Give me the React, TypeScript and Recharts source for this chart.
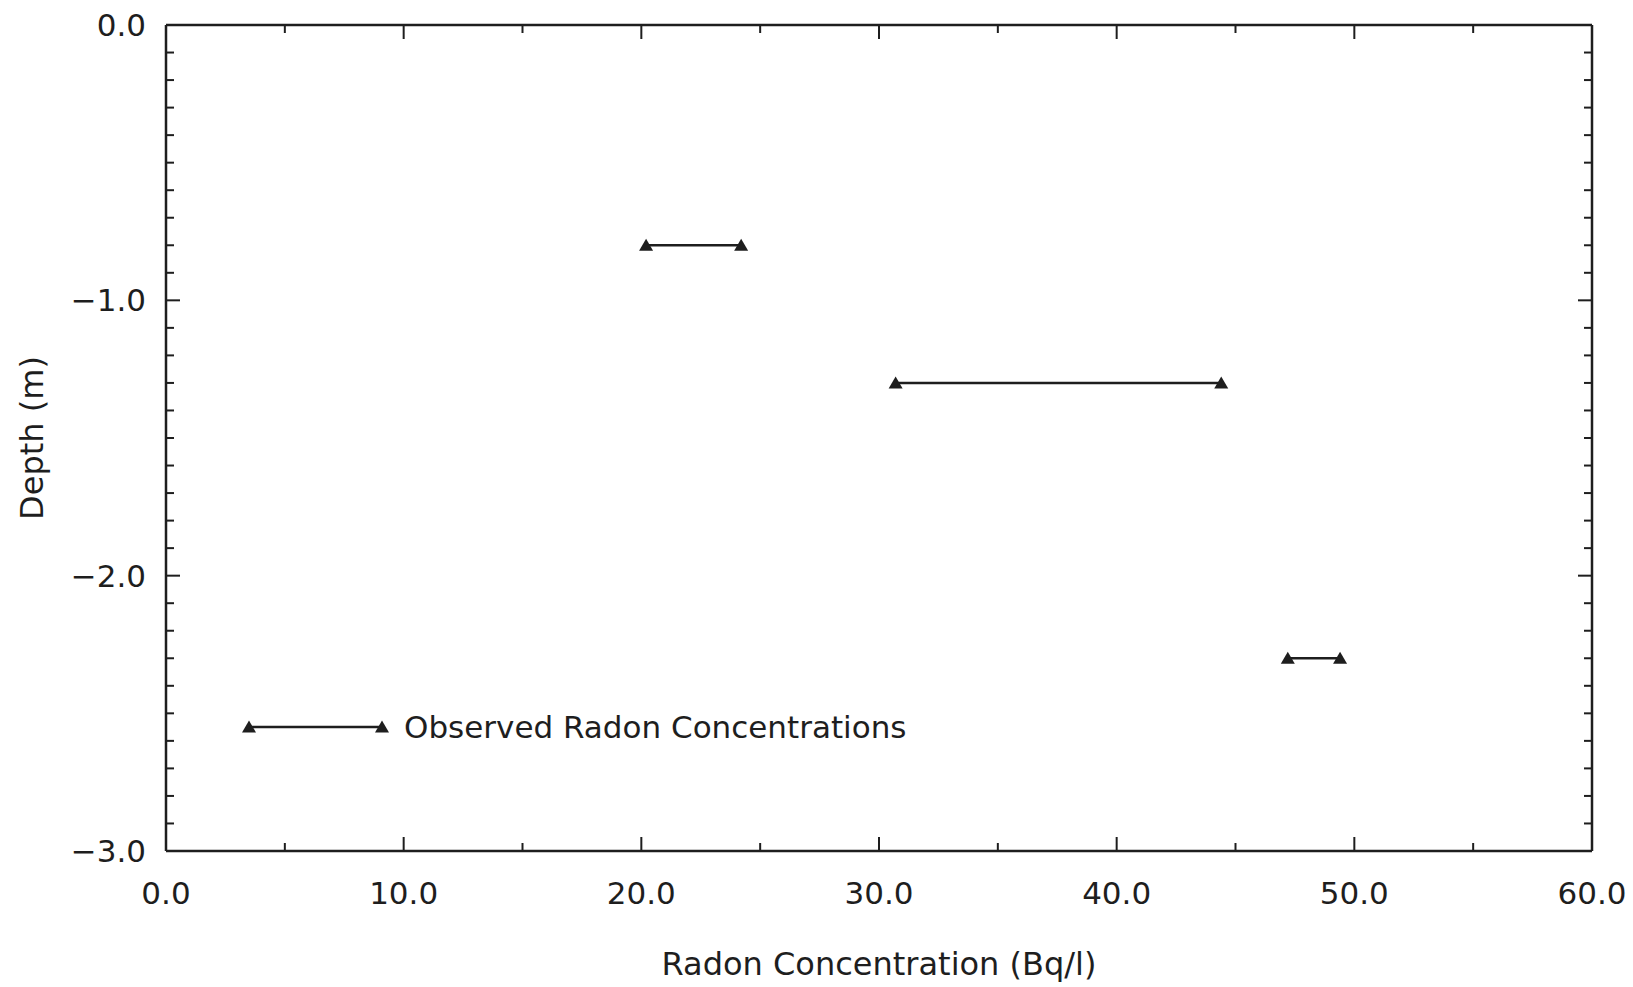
import { ScatterChart, Scatter, XAxis, YAxis, Legend, Label } from 'recharts';

// Observed radon concentration ranges at each sampling depth
const depths = [-0.8, -1.3, -2.3];
const lowValues = [20.2, 30.7, 47.2];
const highValues = [24.2, 44.4, 49.4];

const xTicks = [0, 5, 10, 15, 20, 25, 30, 35, 40, 45, 50, 55, 60];
const yTicks = Array.from({ length: 31 }, (_, i) => (i - 30) / 10);

const INK = '#1e1e1e';
const FONT = '"DejaVu Sans", sans-serif';
const FS = 31;

const ranges = depths.map((d, i) => [
    { x: lowValues[i], y: d },
    { x: highValues[i], y: d },
]);

const fmt = (v: number) => (v < 0 ? '\u2212' : '') + Math.abs(v).toFixed(1);
const isMajor = (v: number, step: number) => Math.abs(v / step - Math.round(v / step)) < 1e-6;

const Triangle = (props: any) => {
    const { cx, cy } = props;
    if (cx == null || cy == null) return null;
    return <polygon points={`${cx - 7},${cy + 5.5} ${cx + 7},${cy + 5.5} ${cx},${cy - 6.5}`} fill={INK} />;
};

const Nothing = () => <g />;

const BottomTick = ({ x, y, payload }: any) => {
    const v = payload.value;
    const major = isMajor(v, 10);
    return (
        <g>
            <line x1={x} x2={x} y1={y} y2={y - (major ? 14 : 8)} stroke={INK} strokeWidth={2} />
            {major && (
                <text x={x} y={y + 53} textAnchor="middle" fontFamily={FONT} fontSize={FS} fill={INK}>
                    {fmt(v)}
                </text>
            )}
        </g>
    );
};

const TopTick = ({ x, y, payload }: any) => {
    const major = isMajor(payload.value, 10);
    return <line x1={x} x2={x} y1={y} y2={y + (major ? 14 : 8)} stroke={INK} strokeWidth={2} />;
};

const LeftTick = ({ x, y, payload }: any) => {
    const v = payload.value;
    const major = isMajor(v, 1);
    return (
        <g>
            <line x1={x} x2={x + (major ? 14 : 8)} y1={y} y2={y} stroke={INK} strokeWidth={2} />
            {major && (
                <text x={x - 20} y={y + 11} textAnchor="end" fontFamily={FONT} fontSize={FS} fill={INK}>
                    {fmt(v)}
                </text>
            )}
        </g>
    );
};

const RightTick = ({ x, y, payload }: any) => {
    const major = isMajor(payload.value, 1);
    return <line x1={x} x2={x - (major ? 14 : 8)} y1={y} y2={y} stroke={INK} strokeWidth={2} />;
};

const XTitle = ({ viewBox }: any) => (
    <text x={viewBox.x + viewBox.width / 2} y={viewBox.y + 124} textAnchor="middle" fontFamily={FONT} fontSize={32} fill={INK}>
        Radon Concentration (Bq/l)
    </text>
);

const YTitle = ({ viewBox }: any) => {
    const cx = 32;
    const cy = viewBox.y + viewBox.height / 2;
    return (
        <text x={cx} y={cy} transform={`rotate(-90 ${cx} ${cy})`} textAnchor="middle" dominantBaseline="central" fontFamily={FONT} fontSize={32} fill={INK}>
            Depth (m)
        </text>
    );
};

const LegendKey = () => (
    <div style={{ display: 'flex', alignItems: 'center', fontFamily: FONT, fontSize: FS, color: INK, whiteSpace: 'nowrap' }}>
        <svg width={152} height={20}>
            <line x1={10} x2={143} y1={10} y2={10} stroke={INK} strokeWidth={2.5} />
            <Triangle cx={10} cy={10} />
            <Triangle cx={143} cy={10} />
        </svg>
        <span style={{ marginLeft: 13 }}>Observed Radon Concentrations</span>
    </div>
);

const axisLine = { stroke: INK, strokeWidth: 2.5 };

export default function App() {
    return (
        <div style={{ position: 'absolute', left: 0, top: 0, width: 1633, height: 987, background: '#fff' }}>
            <ScatterChart width={1633} height={987} margin={{ top: 24, right: 40, bottom: 0, left: 0 }}>
                <XAxis xAxisId="bottom" type="number" dataKey="x" domain={[0, 60]} ticks={xTicks} interval={0}
                    height={136} tickSize={0} tickMargin={0} tickLine={false} axisLine={axisLine} tick={<BottomTick />}>
                    <Label content={<XTitle />} />
                </XAxis>
                <XAxis xAxisId="top" orientation="top" type="number" dataKey="x" domain={[0, 60]} ticks={xTicks} interval={0}
                    height={1} tickSize={0} tickMargin={0} tickLine={false} axisLine={axisLine} tick={<TopTick />} />
                <YAxis yAxisId="left" type="number" dataKey="y" domain={[-3, 0]} ticks={yTicks} interval={0}
                    width={166} tickSize={0} tickMargin={0} tickLine={false} axisLine={axisLine} tick={<LeftTick />}>
                    <Label content={<YTitle />} />
                </YAxis>
                <YAxis yAxisId="right" orientation="right" type="number" dataKey="y" domain={[-3, 0]} ticks={yTicks} interval={0}
                    width={1} tickSize={0} tickMargin={0} tickLine={false} axisLine={axisLine} tick={<RightTick />} />
                <Legend content={<LegendKey />} layout="horizontal" verticalAlign="middle" align="center"
                    wrapperStyle={{ position: 'absolute', left: 239, top: 709, width: 'auto' }} />
                {ranges.map((r, i) => (
                    <Scatter key={i} name="Observed Radon Concentrations" data={r} xAxisId="bottom" yAxisId="left"
                        line={{ stroke: INK, strokeWidth: 2.5 }} lineType="joint" shape={<Triangle />} isAnimationActive={false} />
                ))}
                {/* binds the frame axes on the top and right so they render */}
                <Scatter data={ranges.flat()} xAxisId="top" yAxisId="right" shape={<Nothing />} legendType="none" isAnimationActive={false} />
            </ScatterChart>
        </div>
    );
}
